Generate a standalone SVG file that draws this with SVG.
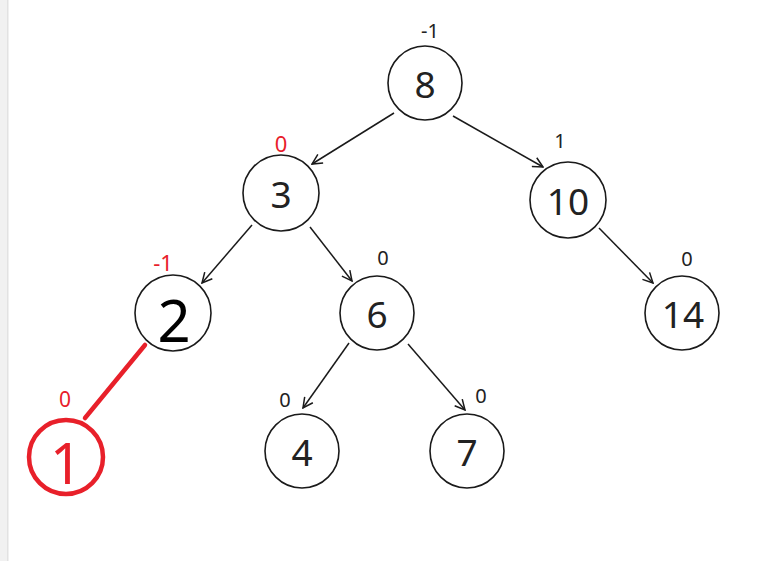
<svg xmlns="http://www.w3.org/2000/svg" width="764" height="561" viewBox="0 0 764 561">
<defs>
<style>
.n{fill:#fff;stroke:#1a1a1a;stroke-width:1.6}
.t{font-family:"Noto Sans","DejaVu Sans",sans-serif;font-size:37px;fill:#222;text-anchor:middle}
.b{font-family:"Noto Sans","DejaVu Sans",sans-serif;font-size:20px;fill:#222;text-anchor:middle}
.r{fill:#e8202a}
.e{stroke:#1a1a1a;stroke-width:1.5;fill:none;marker-end:url(#a)}
</style>
<marker id="a" viewBox="0 0 12 12" refX="11" refY="6" markerWidth="12" markerHeight="12" markerUnits="userSpaceOnUse" orient="auto">
<path d="M1,1 L11,6 L1,11" fill="none" stroke="#1a1a1a" stroke-width="1.5"/>
</marker>
</defs>
<rect width="764" height="561" fill="#fff"/>
<rect width="8" height="561" fill="#f1f1f1"/>
<rect x="7" width="1.5" height="561" fill="#e2e2e2"/>
<g id="edges">
<line class="e" x1="394" y1="113" x2="312" y2="164"/>
<line class="e" x1="453" y1="116" x2="543" y2="167"/>
<line class="e" x1="252" y1="225" x2="202" y2="283"/>
<line class="e" x1="310" y1="227" x2="352" y2="281"/>
<line class="e" x1="599" y1="228" x2="653" y2="283"/>
<line class="e" x1="349" y1="343" x2="303" y2="408"/>
<line class="e" x1="408" y1="344" x2="465" y2="410"/>
<line x1="145" y1="345" x2="85" y2="418" stroke="#e8202a" stroke-width="4.5" stroke-linecap="round"/>
</g>
<g id="n8"><circle class="n" cx="425" cy="83" r="37"/><text class="t" x="425" y="98">8</text><text class="b" x="430" y="38">-1</text></g>
<g id="n3"><circle class="n" cx="281" cy="193" r="38"/><text class="t" x="281" y="208">3</text><text class="b r" x="281" y="152" style="font-size:22px">0</text></g>
<g id="n10"><circle class="n" cx="568" cy="200" r="38"/><text class="t" x="568" y="215">10</text><text class="b" x="560" y="148">1</text></g>
<g id="n2"><circle class="n" cx="173" cy="313" r="38"/><text class="t" x="174" y="342" style="font-size:58px;fill:#000">2</text><text class="b r" x="163" y="271" style="font-size:22px">-1</text></g>
<g id="n6"><circle class="n" cx="377" cy="313" r="37"/><text class="t" x="377" y="328">6</text><text class="b" x="383" y="265">0</text></g>
<g id="n14"><circle class="n" cx="682" cy="313" r="37"/><text class="t" x="683" y="328">14</text><text class="b" x="687" y="266">0</text></g>
<g id="n4"><circle class="n" cx="302" cy="451" r="37"/><text class="t" x="302" y="466">4</text><text class="b" x="285" y="407">0</text></g>
<g id="n7"><circle class="n" cx="467" cy="451" r="37"/><text class="t" x="467" y="466">7</text><text class="b" x="481" y="403">0</text></g>
<g id="n1"><circle cx="66" cy="457" r="37" fill="none" stroke="#e8202a" stroke-width="4.5"/><text class="t r" x="66" y="484" style="font-size:56px">1</text><text class="b r" x="65" y="407" style="font-size:21px">0</text></g>
</svg>
